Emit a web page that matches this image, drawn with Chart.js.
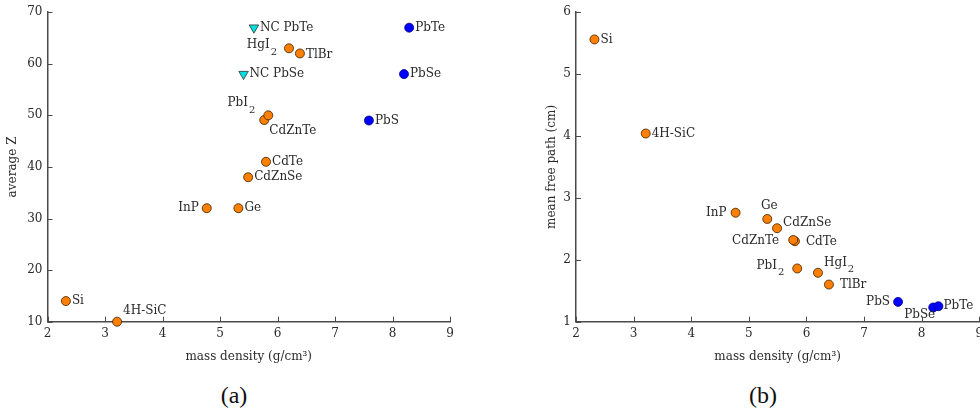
<!DOCTYPE html>
<html><head><meta charset="utf-8">
<script src="https://cdn.jsdelivr.net/npm/chart.js@4.4.1/dist/chart.umd.min.js"></script>
<style>
html,body{margin:0;padding:0;background:#fff;width:980px;height:416px;overflow:hidden;position:relative}
#c1{position:absolute;left:0;top:0}
#c2{position:absolute;left:490px;top:0}
.cap{position:absolute;top:380px;font-family:'Liberation Serif','DejaVu Serif',serif;font-size:24px;line-height:30px;color:#111;width:60px;text-align:center}
</style></head><body>
<canvas id="c1" width="490" height="380"></canvas>
<canvas id="c2" width="500" height="380"></canvas>
<div class="cap" style="left:204px">(a)</div>
<div class="cap" style="left:733px">(b)</div>
<script>
// ---- data ----
const crystalNames   = ['Si','4H-SiC','InP','Ge','CdZnSe','CdTe','CdZnTe','PbI_2','HgI_2','TlBr'];
const crystalDensity = [2.32, 3.21, 4.77, 5.32, 5.49, 5.80, 5.77, 5.84, 6.20, 6.39];
const crystalZ       = [14, 10, 32, 32, 38, 41, 49.1, 50, 63, 62];
const crystalMfp     = [5.56, 4.04, 2.76, 2.66, 2.51, 2.30, 2.32, 1.86, 1.79, 1.60];

const leadNames   = ['PbS','PbSe','PbTe'];
const leadDensity = [7.59, 8.20, 8.29];
const leadZ       = [49, 58, 67];
const leadMfp     = [1.32, 1.23, 1.25];

const ncNames   = ['NC PbSe','NC PbTe'];
const ncDensity = [5.41, 5.59];
const ncZ       = [58, 67];

const xTicks  = [2,3,4,5,6,7,8,9];
const zTicks  = [10,20,30,40,50,60,70];
const mfpTicks = [1,2,3,4,5,6];

// ---- label placement (style only) ----
const placeA = {
  'Si':['r',6,0], '4H-SiC':['r',6,-11], 'InP':['l',-8,0], 'Ge':['r',6,0],
  'CdZnSe':['r',6,0], 'CdTe':['r',6,0], 'CdZnTe':['r',5,11], 'PbI_2':['l',-13,-12],
  'HgI_2':['l',-12,-3], 'TlBr':['r',6,1], 'PbS':['r',6,0], 'PbSe':['r',6,0], 'PbTe':['r',6,0],
  'NC PbSe':['r',6,0], 'NC PbTe':['r',6,0]
};
const placeB = {
  'Si':['r',6,0], '4H-SiC':['r',6,0], 'InP':['l',-9,0], 'Ge':['c',2,-13],
  'CdZnSe':['r',6,-5], 'CdTe':['r',11,1], 'CdZnTe':['l',-14,1], 'PbI_2':['l',-13,-3],
  'HgI_2':['r',6,-10], 'TlBr':['r',11,0], 'PbS':['l',-8,0], 'PbSe':['l',2,7], 'PbTe':['r',5,0]
};

const FONT = "'DejaVu Serif', serif";
const TXT = '#2a2a2a';
const AX = '#4a4a4a';
const FS = 12;

function pts(xs, ys){ return xs.map((x,i)=>({x:x, y:ys[i]})); }

const labelPlugin = {
  id:'pointLabels',
  afterDatasetsDraw(chart, args, opts){
    const ctx = chart.ctx;
    const place = opts.place;
    ctx.save();
    ctx.fillStyle = TXT;
    ctx.textBaseline = 'middle';
    chart.data.datasets.forEach((ds, di)=>{
      const meta = chart.getDatasetMeta(di);
      meta.data.forEach((el, i)=>{
        const name = ds.names[i];
        const p = place[name] || ['r',6,0];
        const parts = name.split('_');
        const main = parts[0], sub = parts[1] || '';
        ctx.font = FS + 'px ' + FONT;
        const wm = ctx.measureText(main).width;
        ctx.font = '10px ' + FONT;
        const ws = sub ? ctx.measureText(sub).width + 1 : 0;
        const w = wm + ws;
        let x0;
        if (p[0]==='r') x0 = el.x + p[1];
        else if (p[0]==='l') x0 = el.x + p[1] - w;
        else x0 = el.x + p[1] - w/2;
        const y0 = el.y + p[2];
        ctx.textAlign = 'left';
        ctx.font = FS + 'px ' + FONT;
        ctx.fillText(main, x0, y0);
        if (sub){
          ctx.font = '10px ' + FONT;
          ctx.fillText(sub, x0 + wm + 1, y0 + 7);
        }
      });
    });
    ctx.restore();
  }
};

const tickPlugin = {
  id:'inTicks',
  afterDraw(chart){
    const ctx = chart.ctx, a = chart.chartArea;
    const xs = chart.scales.x, ys = chart.scales.y;
    ctx.save();
    ctx.strokeStyle = AX; ctx.lineWidth = 1;
    ctx.beginPath();
    xs.ticks.forEach(t=>{ const px = Math.round(xs.getPixelForValue(t.value))+0.5; ctx.moveTo(px, a.bottom); ctx.lineTo(px, a.bottom-5); });
    ys.ticks.forEach(t=>{ const py = Math.round(ys.getPixelForValue(t.value))+0.5; ctx.moveTo(a.left, py); ctx.lineTo(a.left+5, py); });
    ctx.stroke();
    ctx.restore();
  }
};

function scaleCfg(min, max, tickVals, title, isX, fitSize, titlePad){
  return {
    type:'linear', min:min, max:max,
    afterBuildTicks(s){ s.ticks = tickVals.map(v=>({value:v})); },
    afterFit(s){ if(isX) s.height = fitSize; else s.width = fitSize; },
    grid:{display:false, drawTicks:false},
    border:{display:true, color:AX, width:1.5},
    ticks:{color:TXT, font:{family:FONT, size:FS}, padding: isX?5:5, maxRotation:0, autoSkip:false},
    title:{display:true, text:title, color:TXT, font:{family:FONT, size:FS, lineHeight:1.2}, padding:titlePad}
  };
}

const orangeStyle = {backgroundColor:'#ff8000', borderColor:'#3a2000', borderWidth:0.8, pointRadius:4.5, pointHoverRadius:4.5};
const blueStyle   = {backgroundColor:'#0000ff', borderColor:'#00007a', borderWidth:0.8, pointRadius:4.5, pointHoverRadius:4.5};
const cyanStyle   = {backgroundColor:'#00e0e0', borderColor:'#333', borderWidth:0.8, pointRadius:5.5, pointStyle:'triangle', rotation:180};

new Chart(document.getElementById('c1'), {
  type:'scatter',
  data:{datasets:[
    Object.assign({data:pts(crystalDensity, crystalZ), names:crystalNames, clip:false}, orangeStyle),
    Object.assign({data:pts(leadDensity, leadZ), names:leadNames, clip:false}, blueStyle),
    Object.assign({data:pts(ncDensity, ncZ), names:ncNames, clip:false}, cyanStyle)
  ]},
  options:{
    responsive:false, animation:false, events:[],
    layout:{padding:{left:0, top:7, right:40, bottom:0}},
    plugins:{legend:{display:false}, tooltip:{enabled:false}, pointLabels:{place:placeA}},
    scales:{
      x: scaleCfg(2, 9, xTicks, 'mass density (g/cm³)', true, 58.3, {top:0, bottom:15.8}),
      y: scaleCfg(10, 70, zTicks, 'average Z', false, 47.5, {top:5.8, bottom:0})
    }
  },
  plugins:[labelPlugin, tickPlugin]
});

new Chart(document.getElementById('c2'), {
  type:'scatter',
  data:{datasets:[
    Object.assign({data:pts(crystalDensity, crystalMfp), names:crystalNames, clip:false}, orangeStyle),
    Object.assign({data:pts(leadDensity, leadMfp), names:leadNames, clip:false}, blueStyle)
  ]},
  options:{
    responsive:false, animation:false, events:[],
    layout:{padding:{left:0, top:7, right:10.7, bottom:0}},
    plugins:{legend:{display:false}, tooltip:{enabled:false}, pointLabels:{place:placeB}},
    scales:{
      x: scaleCfg(2, 9, xTicks, 'mass density (g/cm³)', true, 58.3, {top:0, bottom:15.8}),
      y: scaleCfg(1, 6, mfpTicks, 'mean free path (cm)', false, 86, {top:54.8, bottom:0})
    }
  },
  plugins:[labelPlugin, tickPlugin]
});
</script>
</body></html>
